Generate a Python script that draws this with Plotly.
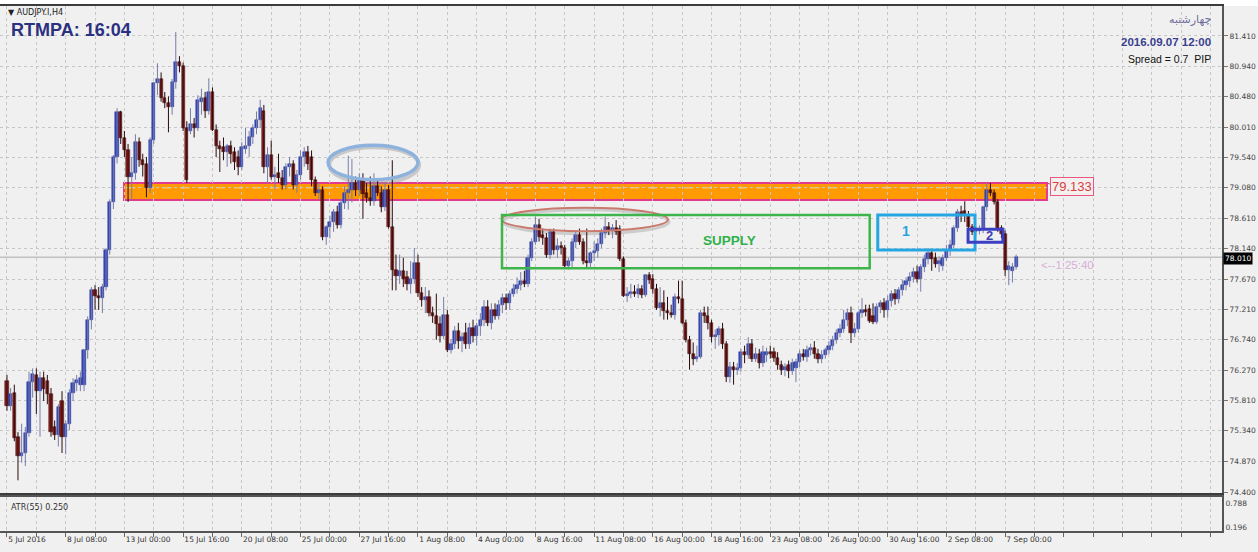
import plotly.graph_objects as go

# ---------------- data (AUDJPY.I, H4) ----------------
open_ = [
    76.10, 75.72, 75.92, 75.25, 74.95, 75.00, 75.30, 76.09, 76.20, 75.95,
    76.15, 76.10, 75.90, 75.40, 75.28, 75.80, 75.25, 75.45, 75.92, 76.08,
    76.05, 76.05, 76.58, 77.04, 77.51, 77.42, 77.38, 77.55, 78.12, 78.86,
    79.55, 80.24, 79.84, 79.66, 79.24, 79.30, 79.78, 79.50, 79.45, 79.07,
    79.81, 80.69, 80.75, 80.46, 80.38, 80.32, 80.70, 81.01, 80.95, 80.00,
    79.95, 80.05, 80.00, 80.40, 80.45, 80.25, 80.55, 79.97, 79.72, 79.70,
    79.62, 79.72, 79.62, 79.55, 79.40, 79.68, 79.72, 79.85, 80.00, 80.12,
    80.25, 79.40, 79.58, 79.25, 79.30, 79.22, 79.12, 79.40, 79.45, 79.12,
    79.28, 79.55, 79.62, 79.55, 79.20, 79.00, 79.05, 78.32, 78.48, 78.55,
    78.70, 78.50, 78.85, 79.00, 79.05, 79.15, 79.05, 79.20, 79.00, 78.92,
    78.88, 79.10, 79.00, 78.78, 79.05, 78.48, 77.81, 77.72, 77.80, 77.70,
    77.60, 77.68, 77.92, 77.46, 77.35, 77.40, 77.15, 77.10, 76.98, 76.80,
    77.12, 76.58, 76.68, 76.88, 76.72, 76.85, 76.68, 76.92, 76.80, 76.95,
    77.05, 77.25, 77.00, 77.20, 77.10, 77.28, 77.38, 77.30, 77.45, 77.52,
    77.58, 77.65, 77.60, 78.00, 78.25, 78.50, 78.35, 78.30, 78.05, 78.40,
    78.12, 78.18, 78.15, 77.87, 77.95, 78.25, 78.35, 78.25, 77.95, 77.92,
    78.08, 78.10, 78.22, 78.38, 78.48, 78.42, 78.46, 78.45, 77.98, 77.42,
    77.45, 77.48, 77.45, 77.52, 77.43, 77.73, 77.68, 77.52, 77.23, 77.30,
    77.18, 77.15, 77.12, 77.40, 77.36, 77.00, 76.74, 76.52, 76.45, 76.48,
    77.15, 77.10, 77.00, 76.78, 76.82, 76.90, 76.67, 76.17, 76.32, 76.28,
    76.31, 76.55, 76.50, 76.68, 76.45, 76.52, 76.38, 76.50, 76.56, 76.55,
    76.46, 76.36, 76.27, 76.35, 76.26, 76.30, 76.40, 76.52, 76.48, 76.58,
    76.62, 76.52, 76.44, 76.50, 76.58, 76.65, 76.74, 76.84, 76.90, 77.05,
    77.15, 76.84, 76.90, 77.15, 77.20, 77.22, 77.10, 77.02, 77.25, 77.30,
    77.20, 77.34, 77.44, 77.36, 77.50, 77.58, 77.64, 77.70, 77.78, 77.68,
    77.86, 77.98, 78.07, 78.00, 77.90, 77.88, 78.00, 78.12, 78.20, 78.46,
    78.70, 78.72, 78.66, 78.48, 78.40, 78.42, 78.44, 78.78, 79.04, 79.00,
    78.86, 78.46, 78.36, 77.81, 77.80, 77.86,
]
high = [
    76.20, 76.00, 76.05, 75.32, 75.45, 75.40, 76.25, 76.30, 76.30, 76.25,
    76.25, 76.20, 76.00, 75.50, 75.75, 75.95, 75.50, 75.98, 76.15, 76.20,
    76.25, 76.60, 77.10, 77.55, 77.58, 77.55, 77.60, 78.15, 78.90, 79.58,
    80.30, 80.26, 79.95, 79.75, 79.55, 79.90, 79.85, 79.60, 79.55, 79.85,
    80.70, 80.99, 80.85, 80.55, 80.48, 80.75, 81.47, 81.10, 81.00, 80.10,
    80.30, 80.15, 80.50, 80.60, 80.55, 80.76, 80.62, 80.05, 79.80, 79.85,
    79.75, 79.80, 79.70, 79.65, 79.78, 80.00, 79.95, 80.05, 80.25, 80.43,
    80.35, 79.70, 79.80, 79.40, 79.60, 79.35, 79.45, 79.55, 79.50, 79.35,
    79.65, 79.70, 79.72, 79.65, 79.25, 79.15, 79.10, 78.50, 78.65, 78.75,
    78.80, 78.90, 79.10, 79.57, 79.52, 79.25, 79.30, 79.30, 79.15, 79.25,
    79.30, 79.20, 79.10, 79.15, 79.12, 79.50, 78.05, 78.05, 78.00, 77.80,
    77.95, 78.15, 78.05, 77.55, 77.55, 77.50, 77.25, 77.45, 77.10, 77.40,
    77.20, 76.75, 76.95, 77.00, 76.85, 77.00, 77.00, 77.05, 77.00, 77.15,
    77.35, 77.35, 77.30, 77.30, 77.35, 77.45, 77.45, 77.50, 77.60, 77.70,
    77.78, 77.80, 78.05, 78.30, 78.63, 78.60, 78.45, 78.38, 78.45, 78.45,
    78.30, 78.25, 78.20, 78.00, 78.30, 78.40, 78.45, 78.30, 78.45, 78.10,
    78.25, 78.30, 78.45, 78.63, 78.55, 78.52, 78.58, 78.50, 78.02, 77.55,
    77.60, 77.58, 77.60, 77.58, 77.75, 77.78, 77.75, 77.60, 77.55, 77.50,
    77.40, 77.28, 77.45, 77.65, 77.65, 77.05, 76.80, 76.70, 76.65, 77.20,
    77.25, 77.25, 77.05, 76.90, 76.95, 77.00, 76.72, 76.40, 76.40, 76.38,
    76.60, 76.65, 76.78, 76.75, 76.62, 76.60, 76.65, 76.62, 76.65, 76.62,
    76.55, 76.42, 76.38, 76.42, 76.45, 76.45, 76.58, 76.60, 76.65, 76.68,
    76.72, 76.60, 76.58, 76.62, 76.72, 76.80, 76.90, 76.98, 77.20, 77.22,
    77.25, 77.00, 77.18, 77.38, 77.28, 77.28, 77.30, 77.30, 77.35, 77.38,
    77.42, 77.50, 77.52, 77.55, 77.66, 77.70, 77.78, 77.85, 77.88, 77.90,
    78.05, 78.15, 78.12, 78.08, 78.02, 78.05, 78.20, 78.28, 78.50, 78.75,
    78.80, 78.87, 78.72, 78.52, 78.48, 78.50, 78.80, 79.15, 79.15, 79.05,
    78.90, 78.50, 78.42, 77.95, 77.92, 78.05,
]
low = [
    75.65, 75.65, 75.18, 74.58, 74.85, 74.80, 75.25, 75.85, 75.60, 75.25,
    75.80, 75.75, 75.25, 75.20, 75.10, 75.00, 74.98, 75.35, 75.80, 75.95,
    75.95, 75.95, 76.45, 76.90, 77.20, 77.20, 77.15, 77.50, 78.05, 78.75,
    79.45, 79.75, 79.55, 78.86, 78.88, 79.20, 79.40, 79.25, 78.93, 79.00,
    79.75, 80.50, 80.40, 80.30, 79.93, 80.20, 80.60, 80.85, 79.95, 79.15,
    79.90, 79.85, 79.95, 80.20, 80.15, 80.20, 79.95, 79.55, 79.32, 79.50,
    79.40, 79.45, 79.35, 79.27, 79.35, 79.60, 79.55, 79.75, 79.90, 80.00,
    79.30, 79.15, 79.20, 79.05, 79.15, 79.05, 79.05, 79.25, 79.05, 79.00,
    79.20, 79.40, 79.35, 79.10, 78.95, 78.90, 78.27, 78.20, 78.30, 78.40,
    78.45, 78.45, 78.75, 78.74, 78.85, 78.95, 78.95, 78.60, 78.85, 78.80,
    78.80, 78.95, 78.70, 78.72, 78.45, 77.50, 77.50, 77.60, 77.55, 77.50,
    77.45, 77.60, 77.40, 77.25, 77.15, 77.10, 77.00, 76.74, 76.70, 76.75,
    76.55, 76.53, 76.60, 76.60, 76.55, 76.60, 76.60, 76.70, 76.65, 76.80,
    76.95, 76.95, 76.90, 77.05, 77.05, 77.15, 77.20, 77.20, 77.40, 77.45,
    77.50, 77.55, 77.55, 77.95, 78.20, 78.25, 78.20, 78.00, 77.98, 78.05,
    78.00, 78.05, 77.85, 77.82, 77.85, 78.15, 78.20, 77.90, 77.85, 77.85,
    77.95, 78.00, 78.15, 78.30, 78.35, 78.30, 78.35, 77.95, 77.40, 77.32,
    77.38, 77.40, 77.38, 77.38, 77.40, 77.60, 77.45, 77.20, 77.10, 77.05,
    77.05, 77.08, 77.05, 77.30, 76.98, 76.70, 76.28, 76.35, 76.40, 76.45,
    77.00, 76.90, 76.70, 76.60, 76.65, 76.60, 76.09, 76.08, 76.05, 76.20,
    76.25, 76.38, 76.45, 76.40, 76.40, 76.30, 76.32, 76.40, 76.45, 76.40,
    76.28, 76.20, 76.18, 76.15, 76.20, 76.09, 76.32, 76.42, 76.40, 76.50,
    76.45, 76.38, 76.38, 76.45, 76.52, 76.58, 76.68, 76.78, 76.85, 76.95,
    76.69, 76.78, 76.85, 77.08, 77.10, 77.00, 76.98, 76.98, 77.15, 77.08,
    77.08, 77.25, 77.28, 77.30, 77.42, 77.50, 77.55, 77.62, 77.62, 77.48,
    77.78, 77.90, 77.80, 77.85, 77.78, 77.80, 77.95, 78.03, 78.15, 78.40,
    78.55, 78.55, 78.40, 78.35, 78.33, 78.36, 78.38, 78.72, 78.95, 78.82,
    78.40, 78.30, 77.72, 77.58, 77.62, 77.82,
]
close = [
    75.72, 75.90, 75.23, 74.95, 75.00, 75.30, 76.09, 76.22, 75.95, 76.15,
    75.98, 75.90, 75.32, 75.28, 75.70, 75.25, 75.45, 75.92, 76.08, 76.12,
    76.15, 76.58, 77.04, 77.51, 77.42, 77.38, 77.55, 78.12, 78.86, 79.55,
    80.24, 79.84, 79.66, 79.24, 79.30, 79.78, 79.50, 79.42, 79.07, 79.81,
    80.69, 80.75, 80.46, 80.38, 80.32, 80.70, 81.01, 80.95, 80.00, 79.20,
    80.05, 80.00, 80.43, 80.45, 80.25, 80.55, 79.97, 79.72, 79.68, 79.62,
    79.72, 79.60, 79.48, 79.40, 79.70, 79.72, 79.85, 80.00, 80.12, 80.30,
    79.40, 79.58, 79.25, 79.28, 79.22, 79.12, 79.40, 79.45, 79.12, 79.28,
    79.55, 79.62, 79.45, 79.20, 79.00, 79.05, 78.32, 78.48, 78.55, 78.70,
    78.50, 78.85, 79.00, 79.05, 79.15, 79.05, 79.20, 78.98, 78.92, 78.88,
    79.10, 79.00, 78.78, 79.05, 78.48, 77.81, 77.72, 77.80, 77.68, 77.60,
    77.68, 77.92, 77.46, 77.35, 77.40, 77.15, 77.10, 76.98, 76.80, 77.12,
    76.58, 76.68, 76.88, 76.72, 76.78, 76.68, 76.92, 76.80, 76.95, 77.05,
    77.25, 77.00, 77.20, 77.10, 77.28, 77.38, 77.30, 77.45, 77.52, 77.58,
    77.65, 77.60, 78.00, 78.25, 78.50, 78.32, 78.30, 78.05, 78.40, 78.12,
    78.18, 78.15, 77.87, 77.95, 78.25, 78.35, 78.25, 77.95, 77.92, 78.08,
    78.10, 78.22, 78.38, 78.48, 78.42, 78.46, 78.40, 77.98, 77.42, 77.45,
    77.48, 77.45, 77.52, 77.43, 77.73, 77.66, 77.52, 77.23, 77.30, 77.18,
    77.15, 77.12, 77.40, 77.36, 77.00, 76.74, 76.52, 76.45, 76.48, 77.15,
    77.10, 77.00, 76.78, 76.82, 76.90, 76.67, 76.17, 76.32, 76.28, 76.31,
    76.55, 76.50, 76.68, 76.45, 76.52, 76.38, 76.55, 76.56, 76.52, 76.46,
    76.36, 76.27, 76.32, 76.26, 76.38, 76.40, 76.52, 76.48, 76.58, 76.62,
    76.52, 76.44, 76.50, 76.58, 76.65, 76.74, 76.84, 76.90, 77.05, 77.15,
    76.84, 76.90, 77.15, 77.20, 77.16, 77.03, 77.02, 77.25, 77.30, 77.20,
    77.34, 77.44, 77.36, 77.50, 77.58, 77.64, 77.70, 77.78, 77.68, 77.86,
    77.98, 78.07, 77.98, 77.90, 77.95, 78.00, 78.12, 78.20, 78.46, 78.70,
    78.65, 78.66, 78.48, 78.40, 78.42, 78.44, 78.78, 79.04, 79.00, 78.86,
    78.46, 78.36, 77.81, 77.88, 77.86, 78.01,
]
bar_index = list(range(len(close)))
assert len(open_) == len(high) == len(low) == len(close) == 276

price_ticks = [81.410, 80.940, 80.480, 80.010, 79.540, 79.080, 78.610, 78.140,
               77.670, 77.210, 76.740, 76.270, 75.810, 75.340, 74.870, 74.400]
time_tick_index = [0, 16, 32, 48, 64, 80, 96, 112, 128, 144, 160, 176, 192, 208, 224, 240, 256, 272]
time_tick_labels = ["5 Jul 2016", "8 Jul 08:00", "13 Jul 00:00", "15 Jul 16:00", "20 Jul 08:00",
                    "25 Jul 00:00", "27 Jul 16:00", "1 Aug 08:00", "4 Aug 00:00", "8 Aug 16:00",
                    "11 Aug 08:00", "16 Aug 00:00", "18 Aug 16:00", "23 Aug 08:00", "26 Aug 00:00",
                    "30 Aug 16:00", "2 Sep 08:00", "7 Sep 00:00"]
atr_ticks = [0.788, 0.196]
last_price = 78.010
level_price = 79.133

# ---------------- layout helpers ----------------
W, H = 1258, 552
ML, MR, MT, MB = 0, 36, 6, 21
PW, PH = W - ML - MR, H - MT - MB


def px(x):
    return (x - ML) / PW


def py(y):
    return (H - MB - y) / PH


main_dom = [py(493), 1.0]
atr_dom = [0.0, py(497)]
x_range = [-1.9, 331.1]
y_range = [74.385, 81.871]
atr_range = [0.097, 0.936]

BULL, BEAR = "#3445B8", "#8A1E1E"
BULL_W, BEAR_W = "#767DA8", "#2A0C0C"
FONT = "DejaVu Sans"

bull = [c >= o for o, c in zip(open_, close)]

fig = go.Figure()

for is_bull, col in ((True, BULL_W), (False, BEAR_W)):
    xs, ys = [], []
    for i in bar_index:
        if bull[i] == is_bull:
            xs += [i, i, None]
            ys += [low[i], high[i], None]
    fig.add_trace(go.Scatter(x=xs, y=ys, mode="lines", line=dict(color=col, width=1),
                             hoverinfo="skip", showlegend=False))

fig.add_trace(go.Bar(
    x=bar_index,
    y=[max(abs(c - o), 0.012) for o, c in zip(open_, close)],
    base=[min(o, c) for o, c in zip(open_, close)],
    width=0.86,
    marker=dict(color=[BULL if b else BEAR for b in bull],
                line=dict(color=["#2A3896" if b else "#3A0C0C" for b in bull], width=0.5)),
    showlegend=False, hoverinfo="skip",
))

# placeholder for ATR sub-window axes
fig.add_trace(go.Scatter(x=[0], y=[0.5], xaxis="x2", yaxis="y2", mode="markers",
                         marker=dict(opacity=0), showlegend=False, hoverinfo="skip"))

grid_index = list(range(0, 332, 8))
grid_text = []
for g in grid_index:
    grid_text.append(time_tick_labels[time_tick_index.index(g)] if g in time_tick_index else "")

shapes = []
# top white strip
shapes.append(dict(type="rect", xref="paper", yref="paper", x0=0, x1=W / PW, y0=1, y1=1 + MT / PH,
                   fillcolor="white", line=dict(width=0), layer="below"))
# bid line
shapes.append(dict(type="line", xref="x", yref="y", x0=x_range[0], x1=x_range[1], y0=last_price, y1=last_price,
                   line=dict(color="#A9A9A9", width=1), layer="below"))
# orange resistance zone
shapes.append(dict(type="rect", xref="x", yref="y", x0=31.9, x1=283.4, y0=78.89, y1=79.15,
                   fillcolor="#FF9B00", line=dict(color="#E23A8C", width=2), layer="below"))
shapes.append(dict(type="line", xref="x", yref="y", x0=32.5, x1=283.0, y0=79.075, y1=79.075,
                   line=dict(color="#FFD890", width=1, dash="dash"), layer="below"))
shapes.append(dict(type="line", xref="x", yref="y", x0=283.4, x1=286.0, y0=79.15, y1=79.10,
                   line=dict(color="#E23A8C", width=1)))
# ellipse shadows
shapes.append(dict(type="circle", xref="x", yref="y", x0=87.8, x1=112.3, y0=79.15, y1=79.70,
                   line=dict(color="rgba(150,150,150,0.45)", width=4), layer="below"))
shapes.append(dict(type="circle", xref="x", yref="y", x0=135.2, x1=180.4, y0=78.37, y1=78.74,
                   line=dict(color="rgba(150,150,150,0.4)", width=3), layer="below"))
# ellipses
shapes.append(dict(type="circle", xref="x", yref="y", x0=87.5, x1=112.0, y0=79.20, y1=79.73,
                   line=dict(color="#8DB2DD", width=3.5)))
shapes.append(dict(type="circle", xref="x", yref="y", x0=134.9, x1=180.1, y0=78.41, y1=78.77,
                   line=dict(color="#C97A6C", width=2)))
# supply box
shapes.append(dict(type="rect", xref="x", yref="y", x0=134.9, x1=235.1, y0=77.84, y1=78.66,
                   line=dict(color="#3DB54A", width=2.5)))
# box 1 / box 2
shapes.append(dict(type="rect", xref="x", yref="y", x0=237.3, x1=263.8, y0=78.12, y1=78.66,
                   line=dict(color="#25A5E2", width=3)))
shapes.append(dict(type="rect", xref="x", yref="y", x0=261.9, x1=271.4, y0=78.24, y1=78.44,
                   line=dict(color="#3A3FC4", width=3)))

annotations = [
    dict(text="▼ AUDJPY.I,H4", x=px(6), y=py(13), xref="paper", yref="paper", xanchor="left",
         yanchor="middle", showarrow=False, font=dict(family=FONT, size=8, color="#222222")),
    dict(text="<b>RTMPA: 16:04</b>", x=px(9), y=py(30), xref="paper", yref="paper", xanchor="left",
         yanchor="middle", showarrow=False, font=dict(family="Liberation Sans", size=18, color="#2B3180")),
    dict(text="چهارشنبه", x=px(1213), y=py(19), xref="paper", yref="paper", xanchor="right",
         yanchor="middle", showarrow=False, font=dict(family=FONT, size=11, color="#6F6A9C")),
    dict(text="<b>2016.09.07 12:00</b>", x=px(1213), y=py(42), xref="paper", yref="paper", xanchor="right",
         yanchor="middle", showarrow=False, font=dict(family="Liberation Sans", size=11.5, color="#3A3F8F")),
    dict(text="Spread = 0.7  PIP", x=px(1213), y=py(59), xref="paper", yref="paper", xanchor="right",
         yanchor="middle", showarrow=False, font=dict(family="Liberation Sans", size=10.5, color="#111111")),
    dict(text=f"{level_price:.3f}", x=px(1050), y=py(187), xref="paper", yref="paper", xanchor="left",
         yanchor="middle", showarrow=False, font=dict(family="Liberation Sans", size=13, color="#D8403C"),
         bordercolor="#E8587E", borderwidth=1, borderpad=1, bgcolor="#F4F0F0"),
    dict(text="<--1:25:40", x=px(1039), y=py(265), xref="paper", yref="paper", xanchor="left",
         yanchor="middle", showarrow=False, font=dict(family="Liberation Sans", size=11.5, color="#D9AED9")),
    dict(text=f"{last_price:.3f}", x=px(1223), y=py(258), xref="paper", yref="paper", xanchor="left",
         yanchor="middle", showarrow=False, font=dict(family=FONT, size=7.5, color="white"),
         bgcolor="#000000", borderpad=1),
    dict(text="<b>SUPPLY</b>", x=197, y=78.27, xref="x", yref="y", showarrow=False,
         font=dict(family="Liberation Sans", size=13.5, color="#2FB04A")),
    dict(text="<b>1</b>", x=245, y=78.41, xref="x", yref="y", showarrow=False,
         font=dict(family="Liberation Sans", size=14, color="#2AA3DE")),
    dict(text="<b>2</b>", x=267.8, y=78.34, xref="x", yref="y", showarrow=False,
         font=dict(family="Liberation Sans", size=13, color="#3A3FB4")),
    dict(text="ATR(55) 0.250", x=px(9), y=py(507), xref="paper", yref="paper", xanchor="left",
         yanchor="middle", showarrow=False, font=dict(family=FONT, size=8, color="#333333")),
]

GRID = "#C6C6C6"
AX = "#3C3C3C"

fig.update_layout(
    width=W, height=H,
    margin=dict(l=ML, r=MR, t=MT, b=MB, autoexpand=False),
    paper_bgcolor="#F0F0F0", plot_bgcolor="#F0F0F0",
    showlegend=False, bargap=0,
    xaxis=dict(domain=[0, 1], anchor="y", range=x_range, tickmode="array", tickvals=grid_index,
               showticklabels=False, ticks="", showgrid=True, gridcolor=GRID, griddash="dot", gridwidth=1,
               showline=True, linecolor=AX, linewidth=1.5, mirror=True, zeroline=False, automargin=False),
    xaxis2=dict(domain=[0, 1], anchor="y2", range=x_range, matches="x", tickmode="array",
                tickvals=grid_index, ticktext=grid_text, ticks="outside", ticklen=4, tickcolor="#666666",
                ticklabelposition="outside right", tickangle=0, automargin=False,
                tickfont=dict(family=FONT, size=7.5, color="#333333"),
                showgrid=True, gridcolor=GRID, griddash="dot", gridwidth=1,
                showline=True, linecolor="#555555", linewidth=1.5, mirror=True, zeroline=False),
    yaxis=dict(domain=main_dom, anchor="x", side="right", range=y_range, tickmode="array",
               tickvals=price_ticks, ticktext=[f"{v:.3f}" for v in price_ticks],
               ticks="outside", ticklen=4, tickcolor="#777777", automargin=False,
               tickfont=dict(family=FONT, size=7.5, color="#444444"),
               showgrid=True, gridcolor=GRID, griddash="dot", gridwidth=1,
               showline=True, linecolor="#555555", linewidth=2, zeroline=False),
    yaxis2=dict(domain=atr_dom, anchor="x2", side="right", range=atr_range, tickmode="array",
                tickvals=atr_ticks, ticktext=[f"{v:.3f}" for v in atr_ticks], ticks="", automargin=False,
                tickfont=dict(family=FONT, size=7.5, color="#444444"),
                showgrid=False, showline=True, linecolor="#555555", linewidth=2, zeroline=False),
    shapes=shapes,
    annotations=annotations,
)

# remove the browser's default 8px page margin so the figure fills the window exactly
fig.write_html("out.html", config={"displayModeBar": False},
               post_script="document.body.style.margin='0';document.body.style.overflow='hidden';")
